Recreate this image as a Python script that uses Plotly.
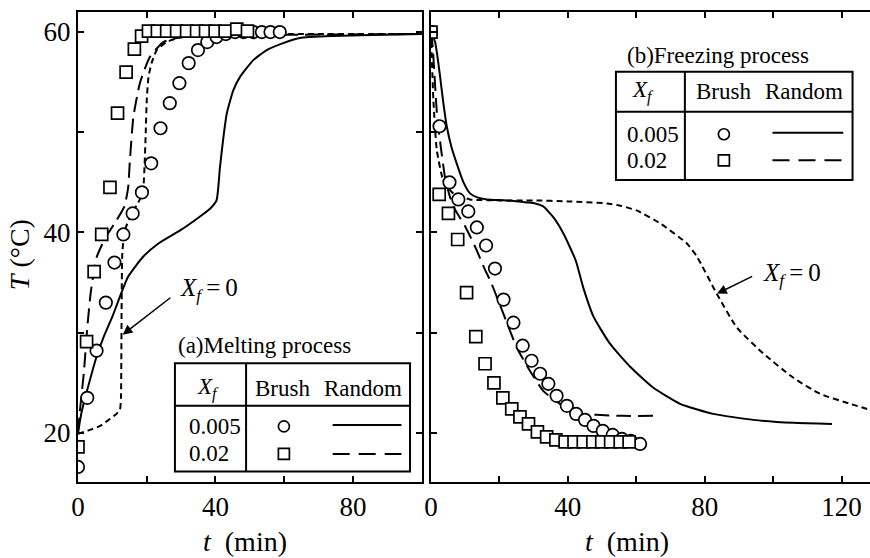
import plotly.graph_objects as go

# ---------------- (a) Melting process ----------------
# Brush-type fins (symbols)
melt_b005_t = [0, 2.7, 5.4, 8.1, 10.6, 13.2, 15.9, 18.6, 21.3, 24.0, 26.7, 29.5, 32.2,
               34.9, 37.6, 40.3, 43.0, 45.7, 48.2, 51.0, 53.5, 56.0, 58.7]
melt_b005_T = [16.6, 23.5, 28.2, 33.0, 37.0, 39.8, 41.9, 44.0, 46.9, 50.4, 52.9, 54.9, 56.9,
               58.2, 59.0, 59.5, 59.8, 60.0, 60.0, 60.0, 60.0, 60.0, 60.0]
melt_b02_t = [0, 2.5, 4.7, 6.9, 9.3, 11.5, 14.0, 16.4, 18.5, 20.5, 23.1, 25.8, 28.7,
              31.6, 34.5, 37.1, 39.9, 42.8, 46.2, 49.3]
melt_b02_T = [18.6, 29.1, 36.1, 39.8, 44.5, 51.9, 56.0, 58.3, 59.6, 60.1, 60.1, 60.1, 60.1,
              60.1, 60.1, 60.1, 60.1, 60.1, 60.3, 60.1]
# Random fibres (lines)
melt_r005_t = [0, 1.0, 2.7, 5.4, 7.5, 10.0, 12.2, 14.6, 19.0, 23.4, 29.7, 35.5, 38.5, 40.3,
               41.3, 42.3, 43.3, 45.2, 47.1, 51.0, 54.9, 59.7, 64.5, 74.2, 85.0, 100]
melt_r005_T = [20.0, 22.0, 24.3, 27.6, 29.6, 31.6, 33.6, 35.6, 37.6, 38.9, 40.2, 41.6, 42.4, 43.2,
               46.5, 49.5, 51.9, 54.2, 55.5, 57.2, 58.2, 58.9, 59.4, 59.6, 59.7, 59.8]
melt_r02_t = [0, 0.5, 1.7, 2.7, 3.7, 5.4, 8.0, 11.2, 13.5, 14.6, 15.1, 16.1, 18.0, 20.9,
              24.8, 28.7, 35.0, 50.0, 100]
melt_r02_T = [20.0, 22.0, 26.0, 30.5, 34.0, 37.5, 39.5, 41.2, 42.6, 44.5, 47.2, 51.5, 54.9, 57.5,
              59.0, 59.4, 59.6, 59.7, 59.8]
# Pure PCM, X_f = 0
melt_x0_t = [0, 3.5, 6.5, 9.3, 11.2, 12.2, 12.5, 12.6, 12.7, 12.9, 13.6, 15.5, 18.0, 19.0,
             19.4, 19.7, 20.0, 20.5, 21.4, 22.9, 25.8, 30.0, 40.0, 60.0, 100]
melt_x0_T = [19.9, 20.3, 20.7, 21.4, 21.9, 22.3, 23.5, 27.0, 33.0, 38.0, 40.2, 41.8, 43.3, 44.5,
             47.0, 49.9, 53.2, 55.5, 56.9, 58.2, 59.0, 59.5, 59.7, 59.8, 59.8]

# ---------------- (b) Freezing process ----------------
frz_b005_t = [0, 2.5, 5.4, 8.0, 10.9, 13.4, 16.1, 18.7, 21.2, 24.1, 26.8, 29.4, 31.9,
              34.3, 36.7, 39.7, 42.4, 45.0, 47.5, 50.2, 53.1, 55.8, 58.4, 61.1]
frz_b005_T = [60.0, 50.6, 45.0, 43.3, 42.1, 40.5, 38.7, 36.4, 33.3, 31.0, 28.7, 27.2, 25.9,
              24.9, 23.7, 22.7, 21.9, 21.3, 20.7, 20.2, 19.8, 19.4, 19.2, 18.9]
frz_b02_t = [0, 2.4, 5.1, 7.8, 10.4, 13.1, 15.8, 18.4, 21.0, 23.6, 26.0, 28.5, 31.1,
             33.8, 36.5, 39.2, 41.8, 44.5, 47.3, 49.9, 52.5, 55.3, 57.9]
frz_b02_T = [60.0, 43.8, 41.9, 39.3, 34.0, 29.6, 26.9, 25.0, 23.5, 22.4, 21.6, 20.9, 20.1,
             19.6, 19.3, 19.1, 19.1, 19.1, 19.1, 19.1, 19.1, 19.1, 19.1]
frz_r005_t = [0, 1.2, 2.5, 3.5, 4.6, 6.0, 7.5, 9.5, 11.4, 13.5, 16.3, 22.0, 28.0, 30.5,
              32.8, 35.8, 38.7, 42.3, 44.5, 47.5, 52.3, 58.2, 65.0, 72.8, 82.5, 94.2, 105.9, 117.2]
frz_r005_T = [60.0, 59.0, 56.0, 53.2, 50.6, 48.5, 46.9, 45.0, 43.9, 43.5, 43.3, 43.2, 43.0, 42.9,
              42.6, 41.5, 39.9, 37.2, 34.5, 31.6, 28.9, 26.6, 24.5, 22.9, 21.9, 21.3, 21.0, 20.9]
frz_r02_t = [0, 0.5, 1.7, 2.5, 4.1, 5.5, 7.0, 10.0, 13.0, 15.5, 17.7, 21.6, 25.1, 28.9,
             32.8, 37.7, 42.6, 48.4, 56.0, 66.0]
frz_r02_T = [60.0, 58.5, 52.0, 49.5, 45.5, 43.6, 42.3, 40.6, 38.5, 36.5, 34.9, 31.5, 28.5, 26.2,
             24.2, 22.9, 22.0, 21.8, 21.7, 21.7]
frz_x0_t = [0, 0.7, 1.7, 3.6, 6.5, 11.4, 20.0, 30.0, 40.0, 51.4, 55.0, 60.1, 67.0, 74.8,
            77.7, 83.5, 89.4, 97.2, 105.9, 113.7, 122.5, 128.3]
frz_x0_T = [60.0, 53.2, 48.2, 45.2, 43.9, 43.3, 43.2, 43.2, 43.1, 42.9, 42.7, 42.2, 40.9, 38.9,
            37.6, 33.9, 30.5, 27.9, 25.5, 23.9, 22.9, 22.3]

# axis ticks
y_ticks = [20, 30, 40, 50, 60]
y_ticktext = ["20", "", "40", "", "60"]
xa_ticks = [0, 20, 40, 60, 80]
xa_ticktext = ["0", "", "40", "", "80"]
xb_ticks = [0, 20, 40, 60, 80, 100, 120]
xb_ticktext = ["0", "", "40", "", "80", "", "120"]

FONT = "Liberation Serif"
BLACK = "black"
LW = 2
SHORT_DASH = "6px,4px"
LONG_DASH = "15px,7px"

fig = go.Figure()


def add_line(t, T, dash, xa, ya):
    fig.add_trace(go.Scatter(x=t, y=T, mode="lines", xaxis=xa, yaxis=ya,
                             line=dict(color=BLACK, width=LW, dash=dash, shape="spline", smoothing=0.5),
                             showlegend=False, hoverinfo="skip"))


def add_markers(t, T, symbol, size, xa, ya):
    fig.add_trace(go.Scatter(x=t, y=T, mode="markers", xaxis=xa, yaxis=ya,
                             marker=dict(symbol=symbol, size=size, color="white",
                                         line=dict(color=BLACK, width=1.7)),
                             showlegend=False, hoverinfo="skip"))


# panel (a)
add_line(melt_x0_t, melt_x0_T, SHORT_DASH, "x", "y")
add_line(melt_r005_t, melt_r005_T, "solid", "x", "y")
add_line(melt_r02_t, melt_r02_T, LONG_DASH, "x", "y")
add_markers(melt_b005_t, melt_b005_T, "circle", 12.5, "x", "y")
add_markers(melt_b02_t, melt_b02_T, "square", 12, "x", "y")

# panel (b)
add_line(frz_x0_t, frz_x0_T, SHORT_DASH, "x2", "y2")
add_line(frz_r005_t, frz_r005_T, "solid", "x2", "y2")
add_line(frz_r02_t, frz_r02_T, LONG_DASH, "x2", "y2")
add_markers(frz_b005_t, frz_b005_T, "circle", 12.5, "x2", "y2")
add_markers(frz_b02_t, frz_b02_T, "square", 12, "x2", "y2")

shapes = []
annotations = []


def key_table(xa, ya, title, box, title_pos, rows):
    """Boxed key: X_f | Brush | Random, drawn inside one panel."""
    x0, x1, y0, y1, xdiv, ydiv = box
    xr, yr = xa, ya
    shapes.append(dict(type="rect", xref=xr, yref=yr, x0=x0, x1=x1, y0=y0, y1=y1,
                       line=dict(color=BLACK, width=2), fillcolor="white", layer="below"))
    shapes.append(dict(type="line", xref=xr, yref=yr, x0=xdiv, x1=xdiv, y0=y0, y1=y1,
                       line=dict(color=BLACK, width=2)))
    shapes.append(dict(type="line", xref=xr, yref=yr, x0=x0, x1=x1, y0=ydiv, y1=ydiv,
                       line=dict(color=BLACK, width=2)))
    tf = dict(family=FONT, size=23, color=BLACK)
    annotations.append(dict(xref=xr, yref=yr, x=title_pos[0], y=title_pos[1], text=title,
                            showarrow=False, xanchor="left", yanchor="middle", font=tf))
    hx, bx, rx, hy, numx, mx, lx0, lx1, ry1, ry2 = rows
    annotations.append(dict(xref=xr, yref=yr, x=hx, y=hy, text="<i>X</i><sub><i>f</i></sub>",
                            showarrow=False, xanchor="center", yanchor="middle", font=tf))
    annotations.append(dict(xref=xr, yref=yr, x=bx, y=hy, text="Brush",
                            showarrow=False, xanchor="center", yanchor="middle", font=tf))
    annotations.append(dict(xref=xr, yref=yr, x=rx, y=hy, text="Random",
                            showarrow=False, xanchor="center", yanchor="middle", font=tf))
    annotations.append(dict(xref=xr, yref=yr, x=numx, y=ry1, text="0.005",
                            showarrow=False, xanchor="left", yanchor="middle", font=tf))
    annotations.append(dict(xref=xr, yref=yr, x=numx, y=ry2, text="0.02",
                            showarrow=False, xanchor="left", yanchor="middle", font=tf))
    fig.add_trace(go.Scatter(x=[mx], y=[ry1], mode="markers", xaxis=xa, yaxis=ya,
                             marker=dict(symbol="circle-open", size=11, color=BLACK, line=dict(width=1.7)),
                             showlegend=False, hoverinfo="skip"))
    fig.add_trace(go.Scatter(x=[mx], y=[ry2], mode="markers", xaxis=xa, yaxis=ya,
                             marker=dict(symbol="square-open", size=11, color=BLACK, line=dict(width=1.7)),
                             showlegend=False, hoverinfo="skip"))
    shapes.append(dict(type="line", xref=xr, yref=yr, x0=lx0, x1=lx1, y0=ry1 + 0.15, y1=ry1 + 0.15,
                       line=dict(color=BLACK, width=LW)))
    shapes.append(dict(type="line", xref=xr, yref=yr, x0=lx0, x1=lx1, y0=ry2, y1=ry2,
                       line=dict(color=BLACK, width=LW, dash="17px,9px")))


key_table("x", "y", "(a)Melting process",
          (28.2, 96.6, 16.14, 26.95, 48.9, 22.7), (28.5, 28.7),
          (37.8, 59.5, 82.8, 24.4, 31.6, 59.9, 74.1, 94.1, 20.65, 17.9))
key_table("x2", "y2", "(b)Freezing process",
          (54.05, 123.2, 45.24, 56.04, 74.2, 52.05), (56.7, 57.7),
          (61.9, 85.4, 108.9, 54.1, 56.7, 85.6, 99.8, 120.5, 49.8, 47.2))

# X_f = 0 callouts
label_font = dict(family=FONT, size=25, color=BLACK)
for xr, yr, head, tail, txt in [("x", "y", (13.0, 29.8), (27.3, 33.6), (38.1, 34.3)),
                                ("x2", "y2", (83.6, 33.9), (94.3, 35.7), (105.5, 35.8))]:
    annotations.append(dict(xref=xr, yref=yr, x=head[0], y=head[1], axref=xr, ayref=yr,
                            ax=tail[0], ay=tail[1], text="", showarrow=True, arrowhead=2,
                            arrowsize=1.3, arrowwidth=1.5, arrowcolor=BLACK))
    annotations.append(dict(xref=xr, yref=yr, x=txt[0], y=txt[1],
                            text="<i>X</i><sub><i>f</i></sub>\u2009=\u20090",
                            showarrow=False, xanchor="center", yanchor="middle", font=label_font))

# axis titles
title_font = dict(family=FONT, size=28, color=BLACK)
annotations.append(dict(xref="paper", yref="paper", x=-0.073, y=0.483, textangle=-90,
                        xanchor="center", yanchor="middle",
                        text="<i>T</i> (°C)", showarrow=False, font=title_font))
annotations.append(dict(xref="paper", yref="paper", x=0.211, y=-0.126,
                        xanchor="center", yanchor="middle",
                        text="<i>t</i>\u00a0\u00a0(min)", showarrow=False, font=title_font))
annotations.append(dict(xref="paper", yref="paper", x=0.693, y=-0.126,
                        xanchor="center", yanchor="middle",
                        text="<i>t</i>\u00a0\u00a0(min)", showarrow=False, font=title_font))

tick_font = dict(family=FONT, size=27, color=BLACK)
axis_common = dict(ticks="inside", ticklen=6, tickwidth=1.5, tickcolor=BLACK,
                   showline=True, linecolor=BLACK, linewidth=2,
                   showgrid=False, zeroline=False, tickfont=tick_font)
Y_RANGE = [15.1, 62]

fig.update_layout(
    width=870, height=558,
    margin=dict(l=78, r=0, t=12, b=76),
    paper_bgcolor="white", plot_bgcolor="white",
    font=dict(family=FONT, color=BLACK),
    xaxis=dict(domain=[0, 0.434], range=[0, 100], tickvals=xa_ticks, ticktext=xa_ticktext,
               mirror="ticks", anchor="y", **axis_common),
    yaxis=dict(domain=[0, 1], range=Y_RANGE, tickvals=y_ticks, ticktext=y_ticktext,
               mirror="ticks", anchor="x", **axis_common),
    xaxis2=dict(domain=[0.4457, 1], range=[0, 128.3], tickvals=xb_ticks, ticktext=xb_ticktext,
                mirror="ticks", anchor="y2", **axis_common),
    yaxis2=dict(domain=[0, 1], range=Y_RANGE, tickvals=y_ticks, showticklabels=False,
                anchor="x2", **axis_common),
    yaxis3=dict(domain=[0, 1], range=Y_RANGE, tickvals=y_ticks, showticklabels=False,
                overlaying="y2", side="right", anchor="x2", ticks="inside", ticklen=6,
                tickwidth=1.5, tickcolor=BLACK, showline=False, showgrid=False, zeroline=False),
    shapes=shapes,
    annotations=annotations,
)

fig.write_html("out.html")
